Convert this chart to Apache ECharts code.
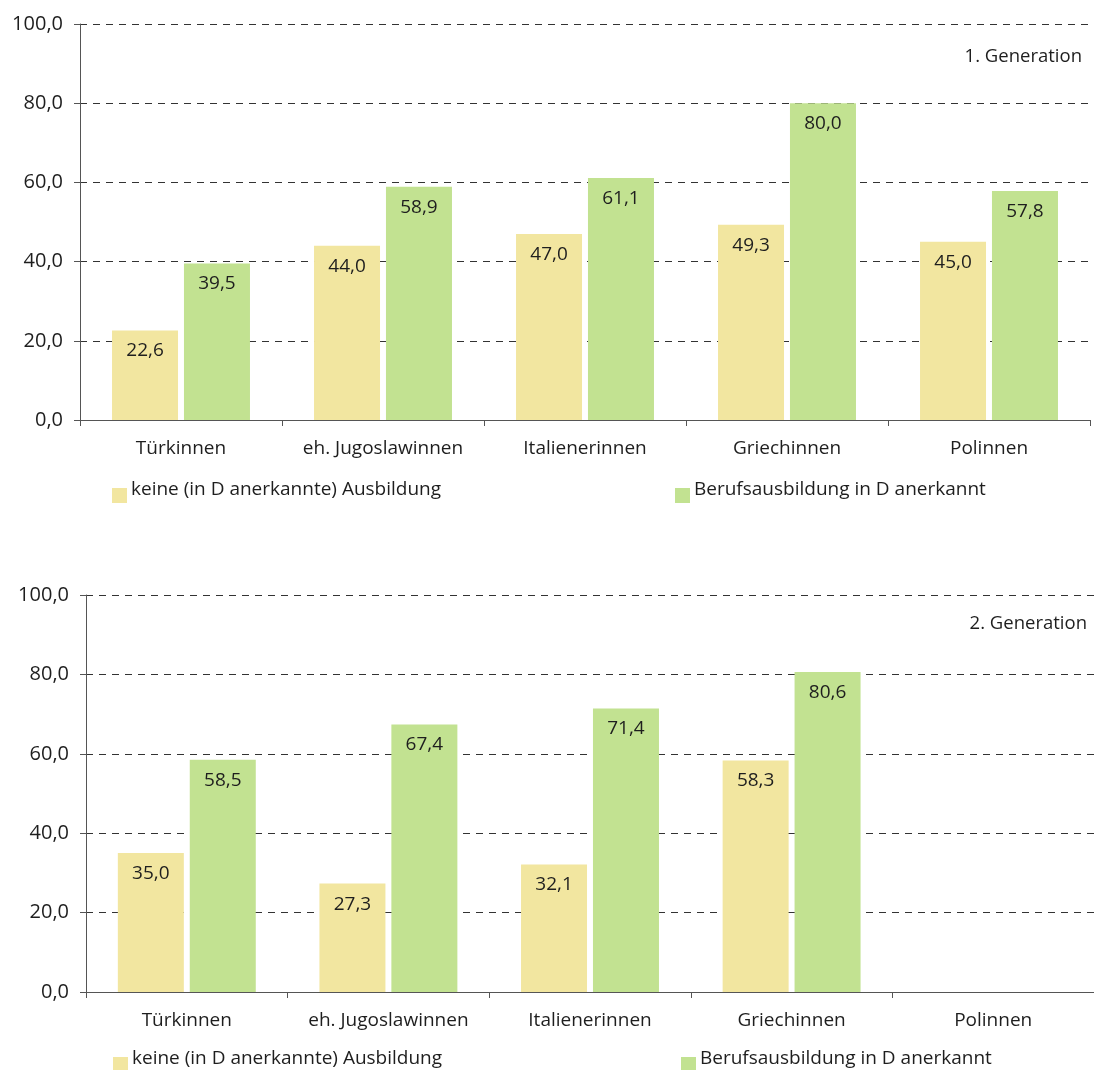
<!DOCTYPE html>
<html>
<head>
<meta charset="utf-8">
<script src="https://cdn.jsdelivr.net/npm/echarts@6/dist/echarts.min.js"></script>
<style>
html,body{margin:0;padding:0;background:#fff;}
#c{width:1094px;height:1070px;}
</style>
</head>
<body>
<div id="c"></div>
<script>
var categories = ['Türkinnen', 'eh. Jugoslawinnen', 'Italienerinnen', 'Griechinnen', 'Polinnen'];
var seriesNames = ['keine (in D anerkannte) Ausbildung', 'Berufsausbildung in D anerkannt'];
var gen1Keine = [22.6, 44.0, 47.0, 49.3, 45.0];
var gen1Beruf = [39.5, 58.9, 61.1, 80.0, 57.8];
var gen2Keine = [35.0, 27.3, 32.1, 58.3, null];
var gen2Beruf = [58.5, 67.4, 71.4, 80.6, null];
var yTicks = [0, 20, 40, 60, 80, 100];
var panelTitles = ['1. Generation', '2. Generation'];

var FONT = 'Open Sans';
var TXT = '#1e1e1e';
var YELLOW = '#F2E6A0';
var GREEN = '#C2E291';
// square icon drawn in the lower part of a taller icon box (text sits higher than the square)
var LEG_ICON = 'path://M0,0L0.01,0L0,0.01Z M0,11L15,11L15,26L0,26Z';

function fmt(v){ return Number(v).toFixed(1).replace('.', ','); }

function xAx(gi){
  return {
    type:'category', gridIndex:gi, data:categories,
    axisLine:{lineStyle:{color:'#555', width:1}},
    axisTick:{show:true, length:6, interval:0, lineStyle:{color:'#555'}},
    axisLabel:{color:TXT, fontFamily:FONT, fontSize:19, margin:19, interval:0}
  };
}
function yAx(gi){
  return {
    type:'value', gridIndex:gi, min:yTicks[0], max:yTicks[yTicks.length-1], interval:20,
    axisLine:{show:true, lineStyle:{color:'#555', width:1}},
    axisTick:{show:true, length:6, lineStyle:{color:'#555'}},
    axisLabel:{color:TXT, fontFamily:FONT, fontSize:20, margin:17, formatter:fmt},
    splitLine:{show:true, lineStyle:{color:'#333', type:[7,6], width:1}}
  };
}
function bar(name, data, color, gi){
  return {
    type:'bar', name:name, xAxisIndex:gi, yAxisIndex:gi, data:data,
    barWidth:66, barGap:'9%',
    itemStyle:{color:color},
    label:{show:true, position:'insideTop', distance:11, color:TXT, fontFamily:FONT, fontSize:19,
      formatter:function(p){ return fmt(p.value); }}
  };
}
function leg(name, left, top, color){
  return {
    data:[{name:name, icon:LEG_ICON, itemStyle:{color:color, borderWidth:0}}],
    left:left, top:top, itemWidth:15, itemHeight:26, itemGap:4,
    selectedMode:false, padding:0,
    textStyle:{color:TXT, fontFamily:FONT, fontSize:19, padding:[0,0,0,-1]}
  };
}

var chart = echarts.init(document.getElementById('c'));
chart.setOption({
  animation:false,
  backgroundColor:'#fff',
  title:[
    {text:panelTitles[0], right:7, top:42, textStyle:{color:TXT, fontFamily:FONT, fontSize:18.5, fontWeight:'normal'}},
    {text:panelTitles[1], right:2, top:609, textStyle:{color:TXT, fontFamily:FONT, fontSize:18.5, fontWeight:'normal'}}
  ],
  legend:[
    leg(seriesNames[0], 112, 477, YELLOW),
    leg(seriesNames[1], 675, 477, GREEN),
    leg(seriesNames[0], 113, 1046, YELLOW),
    leg(seriesNames[1], 681, 1046, GREEN)
  ],
  grid:[
    {left:80, top:24, width:1010, height:396},
    {left:86, top:595, width:1008, height:397}
  ],
  xAxis:[xAx(0), xAx(1)],
  yAxis:[yAx(0), yAx(1)],
  series:[
    bar(seriesNames[0], gen1Keine, YELLOW, 0),
    bar(seriesNames[1], gen1Beruf, GREEN, 0),
    bar(seriesNames[0], gen2Keine, YELLOW, 1),
    bar(seriesNames[1], gen2Beruf, GREEN, 1)
  ]
});
</script>
</body>
</html>
